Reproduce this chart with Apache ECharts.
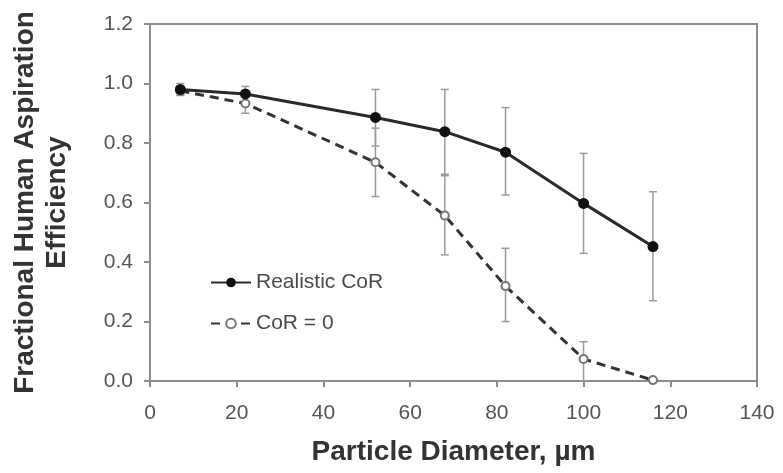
<!DOCTYPE html>
<html>
<head>
<meta charset="utf-8">
<script src="https://cdn.jsdelivr.net/npm/echarts@6/dist/echarts.min.js"></script>
<style>
  html, body { margin: 0; padding: 0; background: #fff; }
  #main { width: 783px; height: 473px; }
</style>
</head>
<body>
<div id="main"></div>
<script>
const diameters = [7, 22, 52, 68, 82, 100, 116];

const realistic = [0.98, 0.965, 0.886, 0.838, 0.769, 0.597, 0.452];
const realisticLow = [0.96, 0.94, 0.79, 0.695, 0.625, 0.429, 0.27];
const realisticHigh = [1.0, 0.99, 0.98, 0.98, 0.919, 0.765, 0.636];

const cor0 = [0.975, 0.933, 0.735, 0.556, 0.319, 0.074, 0.003];
const cor0Low = [0.96, 0.90, 0.62, 0.424, 0.20, 0.0, 0.0];
const cor0High = [0.99, 0.96, 0.85, 0.69, 0.446, 0.132, 0.01];

const xTicks = [0, 20, 40, 60, 80, 100, 120, 140];

const chart = echarts.init(document.getElementById('main'));

function errData(low, high) {
  return diameters.map((d, i) => [d, low[i], high[i]]);
}

function errRender(params, api) {
  const x = api.value(0);
  const lo = api.coord([x, api.value(1)]);
  const hi = api.coord([x, api.value(2)]);
  const w = 4;
  const style = {stroke: '#9a9a9a', lineWidth: 1.5};
  return {
    type: 'group',
    children: [
      {type: 'line', shape: {x1: lo[0], y1: lo[1], x2: hi[0], y2: hi[1]}, style: style},
      {type: 'line', shape: {x1: lo[0] - w, y1: lo[1], x2: lo[0] + w, y2: lo[1]}, style: style},
      {type: 'line', shape: {x1: hi[0] - w, y1: hi[1], x2: hi[0] + w, y2: hi[1]}, style: style}
    ]
  };
}

const axisGray = '#8c8c8c';

let option = {
  animation: false,
  grid: {
    left: 150, right: 26, top: 24, bottom: 92,
    outerBoundsMode: 'none',
    containLabel: false,
    show: true,
    borderColor: axisGray,
    borderWidth: 2
  },
  legend: {
    left: 205,
    top: 267,
    orient: 'vertical',
    itemGap: 20,
    itemWidth: 40,
    itemHeight: 12,
    textStyle: {fontFamily: 'Liberation Sans', fontSize: 21, color: '#4a4a4a'},
    data: ['Realistic CoR', 'CoR = 0']
  },
  xAxis: {
    type: 'value',
    min: 0, max: 140, interval: 20,
    name: 'Particle Diameter, \u00b5m',
    nameLocation: 'middle',
    nameGap: 57,
    nameTextStyle: {fontFamily: 'Liberation Sans', fontSize: 28, fontWeight: 'bold', color: '#333'},
    axisLine: {lineStyle: {color: axisGray, width: 2}},
    axisTick: {inside: false, length: 6, lineStyle: {color: axisGray, width: 2}},
    axisLabel: {fontFamily: 'Liberation Sans', fontSize: 21, color: '#555', margin: 22,
      formatter: v => xTicks.includes(v) ? String(v) : ''},
    splitLine: {show: false}
  },
  yAxis: {
    type: 'value',
    min: 0, max: 1.2, interval: 0.2,
    name: 'Fractional Human Aspiration\nEfficiency',
    nameLocation: 'middle',
    nameGap: 77,
    nameTextStyle: {fontFamily: 'Liberation Sans', fontSize: 28, fontWeight: 'bold', color: '#333', lineHeight: 32},
    axisLine: {lineStyle: {color: axisGray, width: 2}},
    axisTick: {inside: false, length: 6, lineStyle: {color: axisGray, width: 2}},
    axisLabel: {fontFamily: 'Liberation Sans', fontSize: 21, color: '#555', margin: 17,
      formatter: v => v.toFixed(1)},
    splitLine: {show: false}
  },
  series: [
    {
      type: 'custom',
      name: 'errCor0',
      data: errData(cor0Low, cor0High),
      renderItem: errRender,
      z: 1
    },
    {
      type: 'custom',
      name: 'errReal',
      data: errData(realisticLow, realisticHigh),
      renderItem: errRender,
      z: 1
    },
    {
      type: 'line',
      name: 'CoR = 0',
      data: diameters.map((d, i) => [d, cor0[i]]),
      symbol: 'emptyCircle',
      symbolSize: 8,
      lineStyle: {color: '#333', width: 3, type: [9, 6]},
      itemStyle: {color: '#777', borderColor: '#777', borderWidth: 1.5},
      z: 3
    },
    {
      type: 'line',
      name: 'Realistic CoR',
      data: diameters.map((d, i) => [d, realistic[i]]),
      symbol: 'circle',
      symbolSize: 11,
      lineStyle: {color: '#2a2a2a', width: 3},
      itemStyle: {color: '#111'},
      z: 4
    }
  ]
};

chart.setOption(option);
</script>
</body>
</html>
